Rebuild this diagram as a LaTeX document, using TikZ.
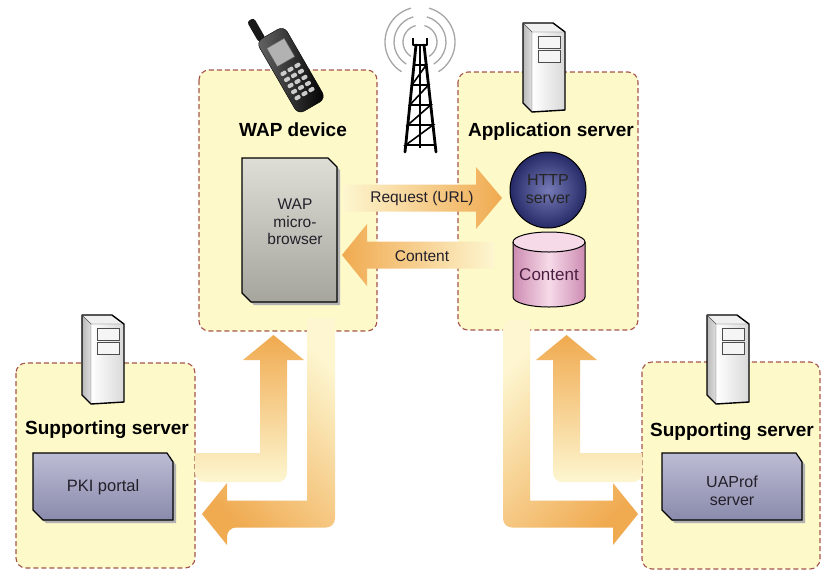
\documentclass[tikz,border=0pt]{standalone}
\usepackage{fontspec}
\setmainfont{Liberation Sans}
\usetikzlibrary{positioning}

\definecolor{zonefill}{RGB}{253,249,200}
\definecolor{zoneline}{RGB}{165,85,75}
\definecolor{flowdark}{RGB}{240,170,80}
\definecolor{flowlight}{RGB}{253,246,208}
\definecolor{chiptop}{RGB}{222,222,214}
\definecolor{chipbot}{RGB}{165,165,157}
\definecolor{portaltop}{RGB}{188,188,212}
\definecolor{portalbot}{RGB}{138,138,172}
\definecolor{httpin}{RGB}{118,122,182}
\definecolor{httpout}{RGB}{38,42,102}
\definecolor{storeedge}{RGB}{205,140,178}
\definecolor{storemid}{RGB}{246,218,232}
\definecolor{inktext}{RGB}{35,32,42}

\begin{document}
\begin{tikzpicture}[x=1pt, y=-1pt,
  zone/.style={draw=zoneline, fill=zonefill, line width=1.1pt,
               dash pattern=on 5pt off 3pt, rounded corners=10pt},
  ztitle/.style={font=\fontsize{19}{21}\selectfont\bfseries},
  flowtext/.style={font=\fontsize{15.5}{17}\selectfont, text=inktext},
  boxtext/.style={font=\fontsize{16}{18}\selectfont, align=center, text=inktext}]

  \useasboundingbox[fill=white] (0,0) rectangle (829,574);

  % dashed zones
  \draw[zone] (199,70) rectangle (377,331);
  \draw[zone] (458,72) rectangle (638,330);
  \draw[zone] (16,363) rectangle (195,568);
  \draw[zone] (642,362) rectangle (820,569);

  \node[ztitle] (devtitle) at (293,130) {WAP device};
  \node[ztitle] (apptitle) at (551,132) {Application server};
  \node[ztitle] (pkititle) at (107,430) {Supporting server};
  \node[ztitle] (uatitle)  at (732,432) {Supporting server};

  % request / content flows
  \shade[left color=flowlight, right color=flowdark]
    (343,184.5) -- (476,184.5) -- (476,167) -- (502,198) -- (476,229)
    -- (476,211.5) -- (343,211.5) -- cycle;
  \shade[left color=flowdark, right color=flowlight]
    (494,241.5) -- (367,241.5) -- (367,224) -- (342,255) -- (367,286)
    -- (367,268.5) -- (494,268.5) -- cycle;
  \node[flowtext] (reqtext) at (422,198) {Request (URL)};
  \node[flowtext] (context) at (422,256) {Content};

  % flows to and from the supporting servers
  \shade[bottom color=flowlight, top color=flowdark]
    (195,453) -- (260,453) -- (260,360) -- (243,360) -- (273.5,335)
    -- (304,360) -- (287,360) [rounded corners=9pt] -- (287,482)
    -- (195,482) [sharp corners] -- cycle;
  \shade[top color=flowlight, bottom color=flowdark, shading angle=-45]
    (307,318) -- (335,318) [rounded corners=9pt] -- (335,527.5)
    -- (227,527.5) [sharp corners] -- (227,545) -- (202,514) -- (227,483)
    -- (227,500.5) -- (307,500.5) -- cycle;
  \shade[top color=flowlight, bottom color=flowdark, shading angle=45]
    (530,320) -- (530,500.5) -- (613,500.5) -- (613,483) -- (638,514)
    -- (613,545) -- (613,527.5) [rounded corners=9pt] -- (503,527.5)
    -- (503,320) [sharp corners] -- cycle;
  \shade[bottom color=flowlight, top color=flowdark]
    (642,453) -- (580,453) -- (580,360) -- (597,360) -- (566.5,335)
    -- (536,360) -- (553,360) [rounded corners=9pt] -- (553,482)
    -- (642,482) [sharp corners] -- cycle;

  % WAP micro-browser
  \fill[black!30] (245,161) -- (331,161) -- (340,170) -- (340,305)
    -- (254,305) -- (245,296) -- cycle;
  \shade[top color=chiptop, bottom color=chipbot, draw=black, line width=1.2pt]
    (242,158) -- (328,158) -- (337,167) -- (337,302) -- (251,302)
    -- (242,293) -- cycle;
  \node[boxtext, font=\fontsize{15.5}{17.5}\selectfont] (browser) at (295,222)
    {WAP\\micro-\\browser};

  % supporting server boxes
  \foreach \bx in {33,662} {
    \fill[black!30] (\bx+3,456) -- (\bx+137,456) -- (\bx+143,465)
      -- (\bx+143,523) -- (\bx+13,523) -- (\bx+3,513) -- cycle;
    \shade[top color=portaltop, bottom color=portalbot, draw=black, line width=1.2pt]
      (\bx,453) -- (\bx+134,453) -- (\bx+140,462) -- (\bx+140,520)
      -- (\bx+10,520) -- (\bx,510) -- cycle;
  }
  \node[boxtext, font=\fontsize{16.5}{18}\selectfont] (pki) at (103,487) {PKI portal};
  \node[boxtext] (uaprof) at (732,491) {UAProf\\server};

  % HTTP server and content store
  \shade[inner color=httpin, outer color=httpout] (548,190) circle (38pt);
  \draw[line width=1pt] (548,190) circle (38pt);
  \node[boxtext, text=black!85] (http) at (548,189) {HTTP\\server};

  \shade[left color=storeedge, right color=storeedge, middle color=storemid]
    (513,242) -- (513,297) arc[start angle=180, end angle=360, x radius=36pt, y radius=10pt]
    -- (585,242) arc[start angle=0, end angle=180, x radius=36pt, y radius=10pt] -- cycle;
  \fill[storemid] (549,242) ellipse [x radius=36pt, y radius=10pt];
  \draw[line width=1pt] (513,242) -- (513,297)
    arc[start angle=180, end angle=360, x radius=36pt, y radius=10pt] -- (585,242);
  \draw[line width=1pt] (549,242) ellipse [x radius=36pt, y radius=10pt];
  \node[boxtext, font=\fontsize{17}{19}\selectfont, text={rgb,255:red,75;green,30;blue,65}]
    (store) at (549,275) {Content};

  % server towers
  \foreach \sx/\sy in {523/23, 82/315, 707/315} {
    \begin{scope}[shift={(\sx,\sy)}]
      \shade[left color=gray!55, right color=gray!25] (0,0) -- (9,9) -- (9,89) -- (0,80) -- cycle;
      \shade[left color=white, right color=gray!30] (9,9) -- (42,9) -- (42,87) -- (9,89) -- cycle;
      \fill[gray!12] (0,0) -- (30,0) -- (42,9) -- (9,9) -- cycle;
      \draw[line width=1.4pt, line join=round]
        (0,0) -- (30,0) -- (42,9) -- (42,87) -- (9,89) -- (0,80) -- cycle;
      \draw[gray!60!black] (0,0) -- (9,9) -- (42,9) (9,9) -- (9,89);
      \draw[gray!60!black, fill=gray!8] (15,13) rectangle (37,25) (15,27) rectangle (37,39);
    \end{scope}
  }

  % radio mast
  \coordinate (mast) at (420,42);
  \foreach \r in {17,26,35} {
    \draw[gray!70, line width=1.3pt] ([shift={(105:\r pt)}]mast)
      arc[start angle=105, end angle=238, radius=\r pt];
    \draw[gray!70, line width=1.3pt] ([shift={(-58:\r pt)}]mast)
      arc[start angle=-58, end angle=75, radius=\r pt];
  }
  \draw[line width=2.6pt, line join=round] (413,38) -- (413,45) -- (427,45) -- (427,38);
  \draw[line width=2.8pt, line cap=round] (416,45) -- (405,152) (424,45) -- (436,152);
  \draw[line width=1.6pt] (420,45) -- (420,148);
  \draw[line width=1.6pt]
    (413.9,65) -- (426.2,65) -- (411.9,85) -- (428.5,85) -- (409.8,105)
    -- (430.7,105) -- (407.8,125) -- (433.0,125) -- (405.7,145) -- (435.2,145);

  % handset
  \begin{scope}[shift={(288,65)}, rotate=30]
    \fill[black!90, rounded corners=3pt] (-14,-34) rectangle (-6,-58);
    \shade[left color=black!60, right color=black, rounded corners=7pt]
      (-16,-36) rectangle (16,48);
    \draw[black, rounded corners=7pt] (-16,-36) rectangle (16,48);
    \fill[gray!60] (-10,-25) rectangle (10,-4);
    \draw[black!60] (-10,-25) rectangle (10,-4);
    \foreach \ky in {5,12,19,26,33}
      \foreach \kx in {-8,0,8}
        \fill[gray!40, rounded corners=1pt] (\kx-3,\ky-2) rectangle (\kx+3,\ky+2);
  \end{scope}
\end{tikzpicture}
\end{document}
